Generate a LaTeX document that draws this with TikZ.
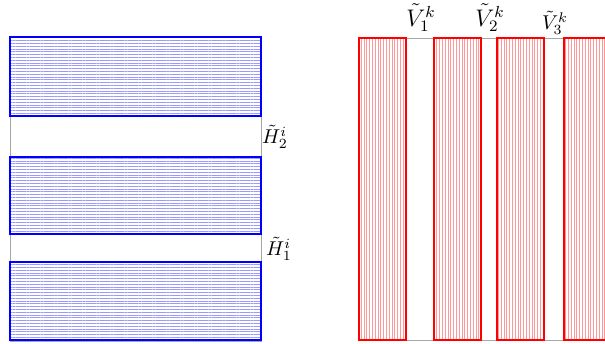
\documentclass[tikz,border=0pt]{standalone}
\usetikzlibrary{patterns.meta}
\tikzset{
  cover-frame/.style={draw=gray!70, line width=0.4pt},
  band/.style={line width=1pt},
  band-blue/.style={
    band,
    draw=blue,
    pattern={Lines[angle=0,distance=1.4pt,line width=0.35pt]},
    pattern color=blue!40
  },
  band-red/.style={
    band,
    draw=red,
    pattern={Lines[angle=90,distance=1.4pt,line width=0.35pt]},
    pattern color=red!40
  },
  tag/.style={inner sep=0pt}
}
\newcommand{\hband}[2]{
  \draw[band-blue] (10,#1) rectangle (261,#2);
}
\newcommand{\vband}[2]{
  \draw[band-red] (#1,38) rectangle (#2,340);
}

\begin{document}
\begin{tikzpicture}[x=0.5pt,y=-0.5pt]
  \useasboundingbox (0,0) rectangle (605,343);
  % Horizontal strips (left square)
  \draw[cover-frame] (10,37) rectangle (261,341);
  \hband{37}{116}
  \hband{157}{234}
  \hband{262}{340}
  \node[tag] (H2) at (275,137) {$\tilde{H}_2^i$};
  \node[tag] (H1) at (279,249) {$\tilde{H}_1^i$};
  % Vertical strips (right square)
  \draw[cover-frame] (359,38) rectangle (611,340);
  \vband{359}{406}
  \vband{434}{481}
  \vband{497}{544}
  \vband{564}{611}
  \node[tag,font=\large] (V1) at (421,18) {$\tilde{V}_1^k$};
  \node[tag,font=\large] (V2) at (490,18) {$\tilde{V}_2^k$};
  \node[tag] (V3) at (555,23) {$\tilde{V}_3^k$};
\end{tikzpicture}
\end{document}
